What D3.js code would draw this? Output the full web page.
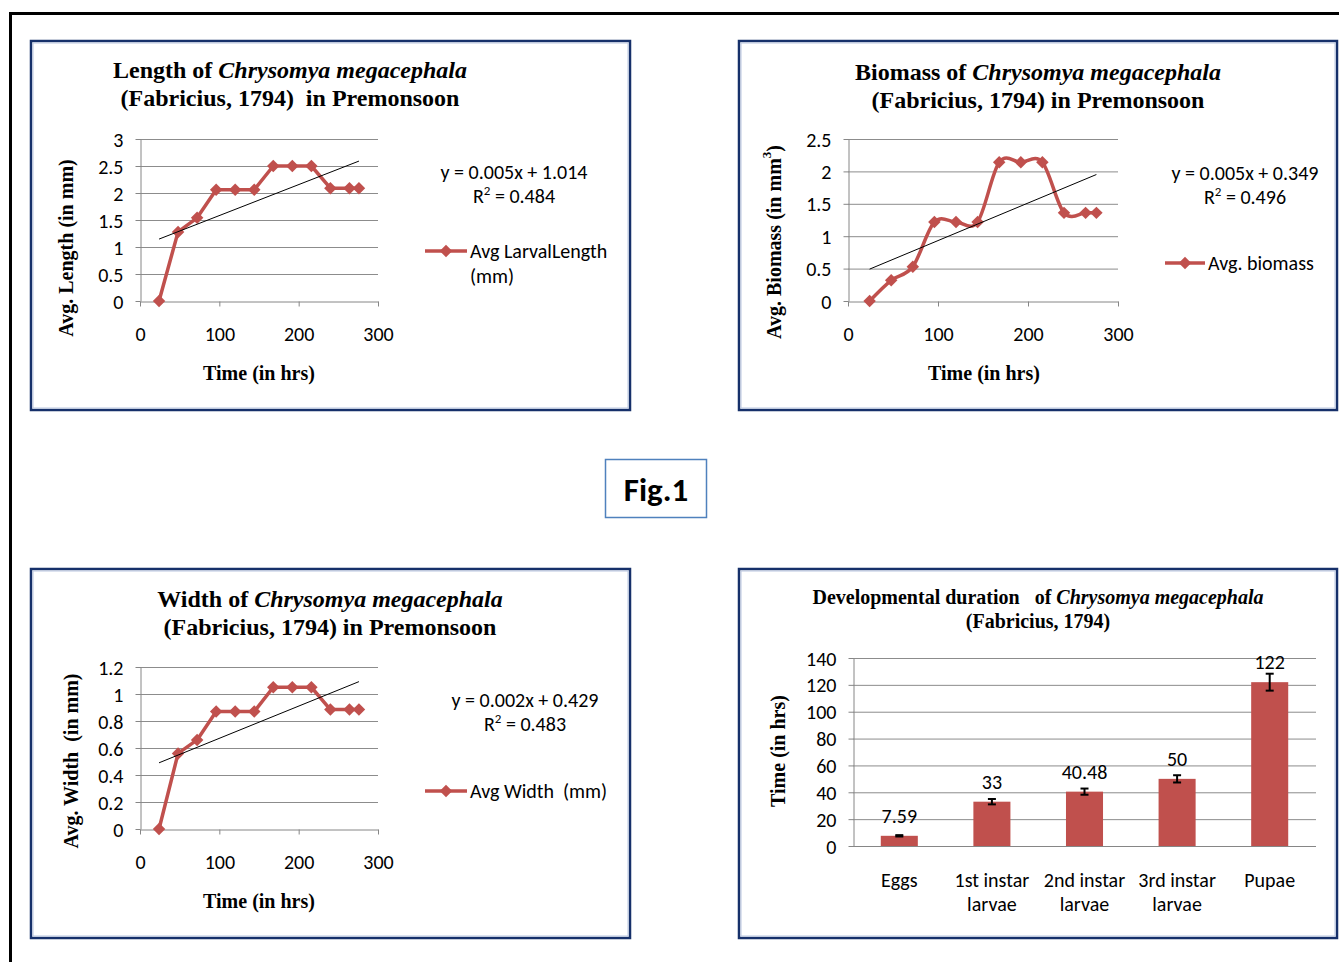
<!DOCTYPE html>
<html>
<head>
<meta charset="utf-8">
<script src="https://cdn.jsdelivr.net/npm/d3@7/dist/d3.min.js"></script>
<style>
  html, body { margin: 0; padding: 0; background: #fff; }
  svg { display: block; }
  .serif { font-family: "Liberation Serif", "Times New Roman", serif; }
  .sans { font-family: Carlito, Lato, "Open Sans", sans-serif; }
</style>
</head>
<body>
<svg id="fig" width="1339" height="962"></svg>
<script>
// ---- data ----
const hours = [24, 48, 72, 96, 120, 144, 168, 192, 216, 240, 264, 276];
const larvalLength = [0, 1.28, 1.54, 2.06, 2.06, 2.06, 2.5, 2.5, 2.5, 2.09, 2.09, 2.09];
const larvalBiomass = [0, 0.32, 0.53, 1.22, 1.22, 1.22, 2.14, 2.14, 2.14, 1.36, 1.36, 1.36];
const larvalWidth = [0, 0.56, 0.66, 0.87, 0.87, 0.87, 1.05, 1.05, 1.05, 0.885, 0.885, 0.885];

const hourTicks = [0, 100, 200, 300];
const lengthTicks = [0, 0.5, 1, 1.5, 2, 2.5, 3];
const biomassTicks = [0, 0.5, 1, 1.5, 2, 2.5];
const widthTicks = [0, 0.2, 0.4, 0.6, 0.8, 1, 1.2];

const stages = ["Eggs", "1st instar larvae", "2nd instar larvae", "3rd instar larvae", "Pupae"];
const stageLabelLines = [["Eggs"], ["1st instar", "larvae"], ["2nd instar", "larvae"], ["3rd instar", "larvae"], ["Pupae"]];
const stageHours = [7.59, 33, 40.48, 50, 122];
const stageErrors = [0.5, 2, 2.3, 2.7, 6.3];
const durationTicks = [0, 20, 40, 60, 80, 100, 120, 140];

const equations = {
  length: ["y = 0.005x + 1.014", "0.484"],
  biomass: ["y = 0.005x + 0.349", "0.496"],
  width: ["y = 0.002x + 0.429", "0.483"]
};

// ---- styles ----
const RED = "#C0504D";
const GRID = "#8c8c8c";
const AXIS = "#868686";
const BORDER = "#16306a";
const SANS = 20;

const svg = d3.select("#fig");

// outer frame (top and left edges)
svg.append("path")
  .attr("d", "M10.5,962 V13.5 H1339")
  .attr("fill", "none").attr("stroke", "#000").attr("stroke-width", 3);

function panelBox(x, y, w, h) {
  svg.append("rect").attr("x", x).attr("y", y).attr("width", w).attr("height", h)
    .attr("fill", "#fff").attr("stroke", BORDER).attr("stroke-width", 2.5);
  svg.append("rect").attr("x", x + 2).attr("y", y + 2).attr("width", w - 4).attr("height", h - 4)
    .attr("fill", "none").attr("stroke", "#b9c6e0").attr("stroke-width", 1);
}

// title made of pieces: [text, italic?]
function title(cx, y, pieces, size) {
  const t = svg.append("text").attr("class", "serif")
    .attr("x", cx).attr("y", y).attr("text-anchor", "middle")
    .attr("font-size", size).attr("font-weight", "bold")
    .style("white-space", "pre").attr("fill", "#000");
  pieces.forEach(([s, it]) => {
    t.append("tspan").attr("font-style", it ? "italic" : "normal").text(s);
  });
  return t;
}

function yTitle(x, cy, text, size) {
  return svg.append("text").attr("class", "serif")
    .attr("transform", `translate(${x},${cy}) rotate(-90)`)
    .attr("text-anchor", "middle").attr("dominant-baseline", "central")
    .attr("font-size", size).attr("font-weight", "bold").style("white-space", "pre")
    .text(text);
}

function diamond(sel) {
  return sel.attr("d", d3.symbol(d3.symbolSquare, 78)());
}

function linearFit(xs, ys) {
  const mx = d3.mean(xs), my = d3.mean(ys);
  let sxy = 0, sxx = 0;
  xs.forEach((x, i) => { sxy += (x - mx) * (ys[i] - my); sxx += (x - mx) * (x - mx); });
  const slope = sxy / sxx;
  return { slope, intercept: my - slope * mx };
}

function lineChart(o) {
  panelBox(o.box[0], o.box[1], o.box[2], o.box[3]);
  o.titleLines.forEach((ln, i) => title(o.titleX, o.titleY[i], ln, 24));

  const x = d3.scaleLinear().domain([0, 300]).range([o.plot[0], o.plot[1]]);
  const y = d3.scaleLinear().domain(o.yDomain).range([o.plot[2], o.plot[3]]);

  const g = svg.append("g");
  // horizontal gridlines
  g.selectAll("line.grid").data(o.yTicks.slice(1)).join("line")
    .attr("x1", o.plot[0]).attr("x2", o.plot[1])
    .attr("y1", d => y(d) + 0.5).attr("y2", d => y(d) + 0.5)
    .attr("stroke", GRID).attr("stroke-width", 1);

  const yAxis = g.append("g").attr("transform", `translate(${o.plot[0] + 0.5},0)`)
    .call(d3.axisLeft(y).tickValues(o.yTicks).tickSize(5).tickSizeOuter(0).tickPadding(12)
      .tickFormat(d3.format("~g")));
  const xAxis = g.append("g").attr("transform", `translate(0,${o.plot[2] + 0.5})`)
    .call(d3.axisBottom(x).tickValues(hourTicks).tickSize(5).tickSizeOuter(0).tickPadding(20));
  [yAxis, xAxis].forEach(a => {
    a.selectAll("path, line").attr("stroke", AXIS);
    a.selectAll("text").attr("class", "sans").attr("font-size", SANS).attr("fill", "#000");
  });
  yAxis.selectAll("text").attr("dy", "0.35em");

  // series line and markers
  const pts = hours.map((h, i) => [h, o.values[i]]);
  const line = d3.line().x(d => x(d[0])).y(d => y(d[1]));
  if (o.smooth) line.curve(d3.curveCatmullRom.alpha(0));
  g.append("path").datum(pts).attr("d", line)
    .attr("fill", "none").attr("stroke", RED).attr("stroke-width", 3.5).attr("stroke-linejoin", "round");
  g.selectAll("path.mk").data(pts).join("path").attr("class", "mk")
    .call(diamond)
    .attr("transform", d => `translate(${x(d[0])},${y(d[1])}) rotate(45)`)
    .attr("fill", RED);

  // linear trend line
  const fit = linearFit(hours, o.values);
  const h0 = hours[0], h1 = hours[hours.length - 1];
  g.append("line")
    .attr("x1", x(h0)).attr("y1", y(fit.intercept + fit.slope * h0))
    .attr("x2", x(h1)).attr("y2", y(fit.intercept + fit.slope * h1))
    .attr("stroke", "#000").attr("stroke-width", 1);

  // axis titles
  svg.append("text").attr("class", "serif").attr("x", (o.plot[0] + o.plot[1]) / 2 + o.xTitleShift)
    .attr("y", o.xTitleY).attr("text-anchor", "middle").attr("font-size", 20).attr("font-weight", "bold")
    .text("Time (in hrs)");
  o.yTitleFn();

  // trend equation
  const eq = svg.append("g").attr("class", "sans").attr("font-size", SANS).attr("text-anchor", "middle");
  eq.append("text").attr("x", o.eqX).attr("y", o.eqY).text(o.equation[0]);
  const r2 = eq.append("text").attr("x", o.eqX).attr("y", o.eqY + 24);
  r2.append("tspan").text("R");
  r2.append("tspan").attr("font-size", 13).attr("dy", -8).text("2");
  r2.append("tspan").attr("dy", 8).text(" = " + o.equation[1]);

  // legend
  const lg = svg.append("g").attr("transform", `translate(${o.legend[0]},${o.legend[1]})`);
  lg.append("line").attr("x1", 0).attr("x2", o.legend[2]).attr("stroke", RED).attr("stroke-width", 3.5);
  lg.append("path").call(diamond).attr("transform", `translate(${o.legend[2] / 2},0) rotate(45)`).attr("fill", RED);
  const lt = lg.append("text").attr("class", "sans").attr("font-size", SANS).attr("x", o.legend[2] + 3)
    .style("white-space", "pre");
  o.legendLines.forEach((s, i) => lt.append("tspan").attr("x", o.legend[2] + 3).attr("dy", i === 0 ? "0.35em" : 25).text(s));
}

// ---- panel: larval length ----
lineChart({
  box: [31, 41, 599, 369],
  titleX: 290, titleY: [78, 106],
  titleLines: [[["Length of ", false], ["Chrysomya megacephala", true]], [["(Fabricius, 1794)  in Premonsoon", false]]],
  plot: [140, 378, 301, 139],
  yDomain: [0, 3], yTicks: lengthTicks,
  values: larvalLength, smooth: false,
  xTitleY: 380, xTitleShift: 0,
  yTitleFn: () => yTitle(66, 248, "Avg. Length (in mm)", 20),
  equation: equations.length, eqX: 514, eqY: 179,
  legend: [425, 251, 42], legendLines: ["Avg LarvalLength", "(mm)"]
});

// ---- panel: larval biomass ----
lineChart({
  box: [739, 41, 598, 369],
  titleX: 1038, titleY: [80, 108],
  titleLines: [[["Biomass of ", false], ["Chrysomya megacephala", true]], [["(Fabricius, 1794) in Premonsoon", false]]],
  plot: [848, 1118, 301, 139],
  yDomain: [0, 2.5], yTicks: biomassTicks,
  values: larvalBiomass, smooth: true,
  xTitleY: 380, xTitleShift: 1,
  yTitleFn: () => {
    const t = yTitle(774, 242, "Avg. Biomass (in mm", 20);
    t.append("tspan").attr("font-size", 13).attr("dy", -8).text("3");
    t.append("tspan").attr("dy", 8).text(")");
  },
  equation: equations.biomass, eqX: 1245, eqY: 180,
  legend: [1165, 263, 40], legendLines: ["Avg. biomass"]
});

// ---- panel: larval width ----
lineChart({
  box: [31, 569, 599, 369],
  titleX: 330, titleY: [607, 635],
  titleLines: [[["Width of ", false], ["Chrysomya megacephala", true]], [["(Fabricius, 1794) in Premonsoon", false]]],
  plot: [140, 378, 829, 667],
  yDomain: [0, 1.2], yTicks: widthTicks,
  values: larvalWidth, smooth: false,
  xTitleY: 908, xTitleShift: 0,
  yTitleFn: () => yTitle(71, 761, "Avg. Width  (in mm)", 20),
  equation: equations.width, eqX: 525, eqY: 707,
  legend: [425, 791, 42], legendLines: ["Avg Width  (mm)"]
});

// ---- panel: developmental duration ----
(function () {
  panelBox(739, 569, 598, 369);
  title(1038, 604, [["Developmental duration   of ", false], ["Chrysomya megacephala", true]], 20);
  title(1038, 628, [["(Fabricius, 1794)", false]], 20);

  const plot = [853, 1316, 846, 658];
  const x = d3.scaleBand().domain(stages).range([plot[0], plot[1]]).paddingInner(0.6).paddingOuter(0.3);
  const y = d3.scaleLinear().domain([0, 140]).range([plot[2], plot[3]]);
  const g = svg.append("g");

  g.selectAll("line.grid").data(durationTicks.slice(1)).join("line")
    .attr("x1", plot[0]).attr("x2", plot[1])
    .attr("y1", d => y(d) + 0.5).attr("y2", d => y(d) + 0.5)
    .attr("stroke", GRID).attr("stroke-width", 1);

  const yAxis = g.append("g").attr("transform", `translate(${plot[0] + 0.5},0)`)
    .call(d3.axisLeft(y).tickValues(durationTicks).tickSize(5).tickSizeOuter(0).tickPadding(12));
  yAxis.selectAll("path, line").attr("stroke", AXIS);
  yAxis.selectAll("text").attr("class", "sans").attr("font-size", SANS).attr("fill", "#000").attr("dy", "0.35em");
  g.append("line").attr("x1", plot[0]).attr("x2", plot[1])
    .attr("y1", plot[2] + 0.5).attr("y2", plot[2] + 0.5).attr("stroke", AXIS);

  const rows = stages.map((s, i) => ({ s, v: stageHours[i], e: stageErrors[i], lines: stageLabelLines[i] }));

  g.selectAll("rect.bar").data(rows).join("rect")
    .attr("x", d => x(d.s)).attr("width", x.bandwidth())
    .attr("y", d => y(d.v)).attr("height", d => y(0) - y(d.v))
    .attr("fill", RED);

  // error bars
  const eb = g.selectAll("g.err").data(rows).join("g")
    .attr("transform", d => `translate(${x(d.s) + x.bandwidth() / 2},0)`)
    .attr("stroke", "#000").attr("stroke-width", 2);
  eb.append("line").attr("y1", d => y(d.v + d.e)).attr("y2", d => y(d.v - d.e));
  eb.append("line").attr("x1", -4).attr("x2", 4).attr("y1", d => y(d.v + d.e)).attr("y2", d => y(d.v + d.e));
  eb.append("line").attr("x1", -4).attr("x2", 4).attr("y1", d => y(d.v - d.e)).attr("y2", d => y(d.v - d.e));

  // value labels
  g.selectAll("text.val").data(rows).join("text")
    .attr("class", "sans").attr("font-size", SANS).attr("text-anchor", "middle")
    .attr("x", d => x(d.s) + x.bandwidth() / 2).attr("y", d => y(d.v) - 13)
    .text(d => d3.format("~f")(d.v));

  // category labels
  const cl = g.selectAll("text.cat").data(rows).join("text")
    .attr("class", "sans").attr("font-size", SANS).attr("text-anchor", "middle");
  cl.each(function (d) {
    const t = d3.select(this);
    d.lines.forEach((s, i) => t.append("tspan").attr("x", x(d.s) + x.bandwidth() / 2).attr("y", 887 + i * 24).text(s));
  });

  yTitle(778, 751, "Time (in hrs)", 20);
})();

// ---- figure label ----
svg.append("rect").attr("x", 605.5).attr("y", 459.5).attr("width", 101).attr("height", 58)
  .attr("fill", "#fff").attr("stroke", "#4f81bd").attr("stroke-width", 1.5);
svg.append("text").attr("class", "sans").attr("x", 656).attr("y", 501).attr("text-anchor", "middle")
  .attr("font-size", 33).attr("font-weight", "bold").text("Fig.1");
</script>
</body>
</html>
